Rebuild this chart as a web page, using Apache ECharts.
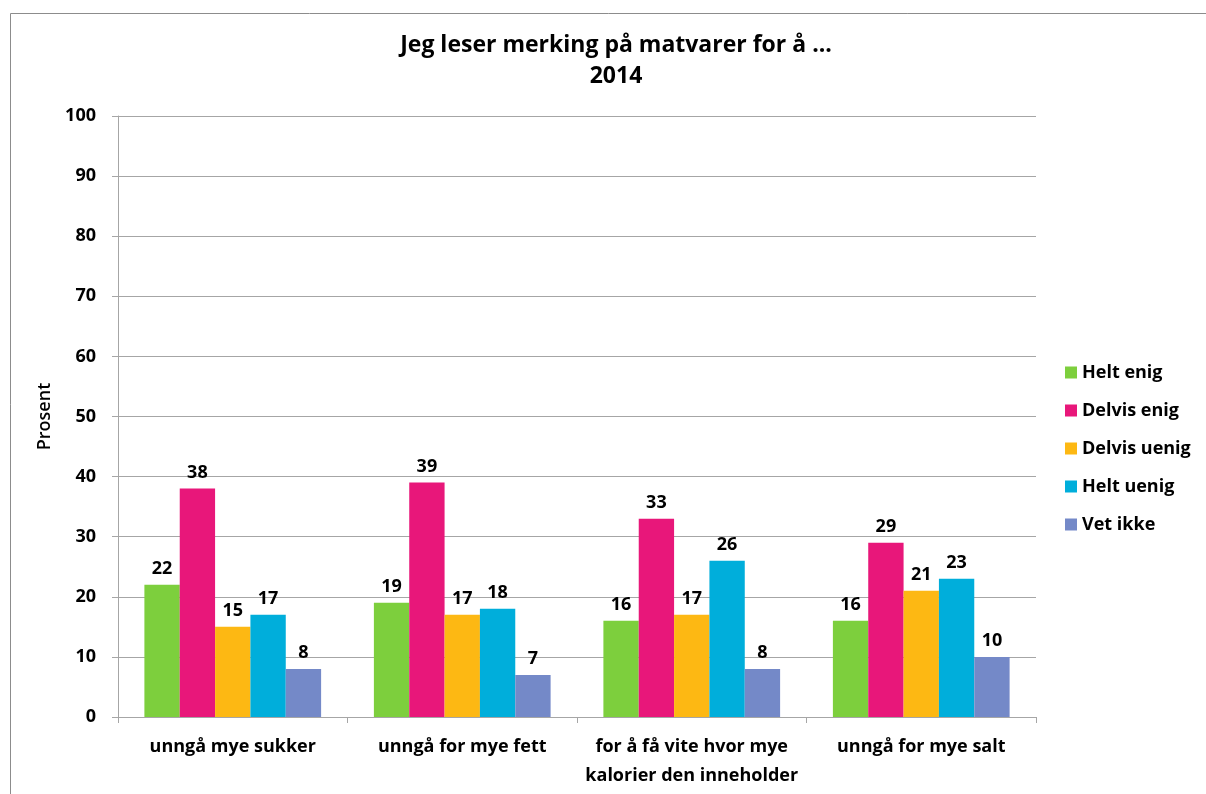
<!DOCTYPE html>
<html>
<head>
<meta charset="utf-8">
<script src="https://cdn.jsdelivr.net/npm/echarts@6/dist/echarts.min.js"></script>
<style>
  html, body { margin: 0; padding: 0; background: #fff; }
  #chart { width: 1206px; height: 794px; }
</style>
</head>
<body>
<div id="chart"></div>
<script>
// kategorier og verdier
const categories = [
  'unngå mye sukker',
  'unngå for mye fett',
  'for å få vite hvor mye\nkalorier den inneholder',
  'unngå for mye salt'
]
const heltEnig = [22, 19, 16, 16]
const delvisEnig = [38, 39, 33, 29]
const delvisUenig = [15, 17, 17, 21]
const heltUenig = [17, 18, 26, 23]
const vetIkke = [8, 7, 8, 10]

const seriesDefs = [
  { name: 'Helt enig', data: heltEnig, color: '#7dcf3d' },
  { name: 'Delvis enig', data: delvisEnig, color: '#e8177a' },
  { name: 'Delvis uenig', data: delvisUenig, color: '#fdb813' },
  { name: 'Helt uenig', data: heltUenig, color: '#00aedb' },
  { name: 'Vet ikke', data: vetIkke, color: '#7489c8' }
]

const font = 'Open Sans, Noto Sans, sans-serif'

const chart = echarts.init(document.getElementById('chart'))
chart.setOption({
  animation: false,
  textStyle: { fontFamily: font },
  graphic: [
    {
      type: 'rect',
      left: 8,
      top: 11,
      shape: { width: 1250, height: 850 },
      style: { fill: 'none', stroke: '#8c8c8c', lineWidth: 1 },
      silent: true
    }
  ],
  title: {
    text: 'Jeg leser merking på matvarer for å ...\n2014',
    left: 611,
    textAlign: 'center',
    top: 25,
    textStyle: {
      fontSize: 23,
      fontWeight: 'bold',
      color: '#000',
      lineHeight: 31,
      fontFamily: font
    }
  },
  legend: {
    orient: 'vertical',
    left: 1060,
    top: 355,
    itemWidth: 12,
    itemHeight: 12,
    itemGap: 13,
    icon: 'rect',
    textStyle: { fontSize: 18, fontWeight: 'bold', color: '#000', fontFamily: font, lineHeight: 25 },
    data: seriesDefs.map(s => s.name)
  },
  grid: {
    left: 118,
    top: 116,
    width: 918,
    height: 601
  },
  xAxis: {
    type: 'category',
    data: categories,
    axisLine: { lineStyle: { color: '#a6a6a6', width: 1 } },
    axisTick: { show: true, length: 6, inside: false, lineStyle: { color: '#a6a6a6' } },
    axisLabel: {
      interval: 0,
      fontSize: 18,
      fontWeight: 'bold',
      color: '#000',
      margin: 15,
      lineHeight: 29,
      fontFamily: font
    }
  },
  yAxis: {
    type: 'value',
    min: 0,
    max: 100,
    interval: 10,
    name: 'Prosent',
    nameLocation: 'middle',
    nameGap: 63,
    nameTextStyle: { fontSize: 18, fontWeight: 600, color: '#000', fontFamily: font },
    axisLine: { show: true, lineStyle: { color: '#a6a6a6', width: 1 } },
    axisTick: { show: true, length: 6, lineStyle: { color: '#a6a6a6' } },
    axisLabel: { fontSize: 18, fontWeight: 'bold', color: '#000', margin: 22, fontFamily: font },
    splitLine: { lineStyle: { color: '#a6a6a6', width: 1 } }
  },
  series: seriesDefs.map(s => ({
    name: s.name,
    type: 'bar',
    data: s.data,
    barGap: '0%',
    barCategoryGap: '23%',
    itemStyle: { color: s.color },
    label: {
      show: true,
      position: 'top',
      distance: 7,
      fontSize: 18,
      fontWeight: 'bold',
      color: '#000',
      fontFamily: font
    }
  }))
})
</script>
</body>
</html>
